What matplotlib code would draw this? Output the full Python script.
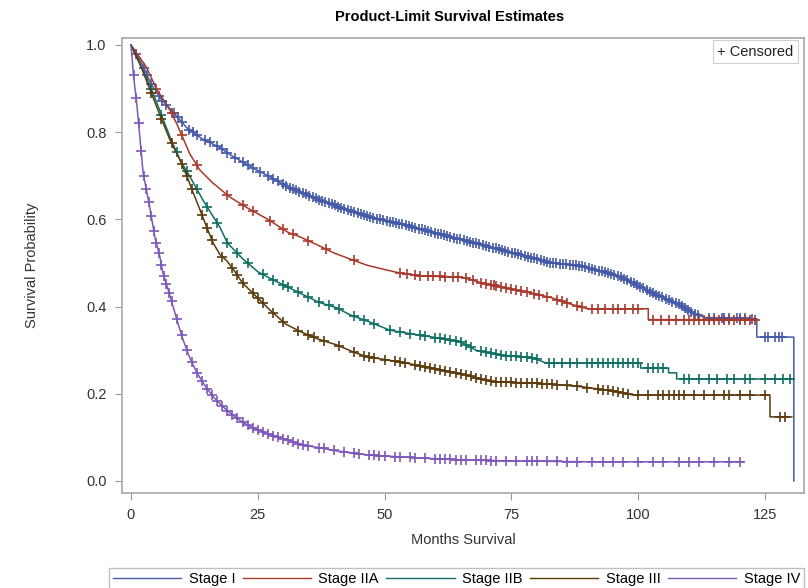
import numpy as np
import matplotlib
matplotlib.use("Agg")
import matplotlib.pyplot as plt
from matplotlib.lines import Line2D

plt.rcParams['font.family'] = ['Liberation Sans', 'DejaVu Sans']

# Survival curves (months, survival); a repeated time is a vertical drop
stage1_t = [0, 2, 4, 6, 8, 11, 14, 17.5, 20, 24, 27, 31, 34, 37, 42, 47, 53, 58, 63, 68, 73, 78,
            83, 88, 93, 96, 99, 102, 105, 108, 111, 113, 123.4, 123.4, 130.7, 130.7]
stage1_s = [1.0, 0.96, 0.91, 0.875, 0.85, 0.81, 0.785, 0.765, 0.745, 0.718, 0.70, 0.674, 0.66,
            0.645, 0.625, 0.605, 0.59, 0.575, 0.56, 0.545, 0.53, 0.515, 0.50, 0.495, 0.48, 0.47,
            0.455, 0.435, 0.42, 0.405, 0.385, 0.375, 0.372, 0.33, 0.33, 0.0]

stage2a_t = [0, 3, 5, 7.7, 9, 10.5, 11.6, 13.6, 16, 19.5, 23, 27, 31, 33.3, 37, 40, 43, 46.5, 50,
             53, 57, 65, 69, 73, 79, 83, 86, 90, 102, 102, 123.4]
stage2a_s = [1.0, 0.95, 0.90, 0.85, 0.82, 0.78, 0.75, 0.713, 0.685, 0.651, 0.626, 0.60, 0.57, 0.56,
             0.54, 0.523, 0.51, 0.495, 0.485, 0.477, 0.47, 0.468, 0.455, 0.445, 0.431, 0.42, 0.408,
             0.395, 0.395, 0.37, 0.37]

stage2b_t = [0, 2, 4, 6, 8, 9.7, 12, 14.2, 16, 17.5, 19, 22, 25, 27.4, 30, 33.3, 37, 40.6, 43.2, 47,
             51, 55, 59.5, 65, 68, 72.8, 79.3, 82, 100.5, 100.5, 106, 106, 107.6, 107.6, 130.3]
stage2b_s = [1.0, 0.95, 0.90, 0.84, 0.78, 0.736, 0.69, 0.644, 0.61, 0.583, 0.546, 0.51, 0.48, 0.465,
             0.45, 0.431, 0.41, 0.397, 0.381, 0.365, 0.346, 0.338, 0.330, 0.319, 0.30, 0.289, 0.282,
             0.27, 0.27, 0.259, 0.259, 0.248, 0.248, 0.234, 0.234]

stage3_t = [0, 2, 4, 6, 7.7, 9.5, 11, 12.3, 13.6, 15, 16.2, 17.5, 18.9, 20.5, 22, 24, 27.4, 30.5,
            33.5, 37, 40.6, 44, 46.5, 53, 59.5, 66, 71.4, 79.3, 85, 89, 96.4, 99, 126, 126, 130.3]
stage3_s = [1.0, 0.95, 0.89, 0.83, 0.782, 0.74, 0.70, 0.66, 0.622, 0.58, 0.546, 0.52, 0.505, 0.48,
            0.454, 0.431, 0.392, 0.36, 0.342, 0.325, 0.312, 0.295, 0.285, 0.273, 0.259, 0.243,
            0.227, 0.225, 0.22, 0.216, 0.204, 0.197, 0.197, 0.147, 0.147]

stage4_t = [0, 0.5, 1.2, 1.8, 2.4, 3.7, 4.7, 5.7, 6.3, 7.3, 8.3, 9.3, 10.3, 11.5, 13, 14.5, 16.2,
            18, 19.5, 22, 24, 27, 30.8, 34, 37.3, 40.6, 46.5, 52, 56.4, 62, 66.2, 75, 90, 120.7]
stage4_s = [1.0, 0.93, 0.858, 0.782, 0.706, 0.628, 0.56, 0.514, 0.477, 0.44, 0.40, 0.36, 0.323,
            0.285, 0.248, 0.22, 0.193, 0.172, 0.156, 0.135, 0.122, 0.108, 0.094, 0.082, 0.076,
            0.069, 0.06, 0.056, 0.053, 0.05, 0.048, 0.046, 0.044, 0.044]

# Censoring times (months)
stage1_cens = [1, 2.5, 3.2, 4, 5.5, 6.2, 7, 8.5, 9.2, 10, 11.5, 12.2, 13, 14.5, 15.5, 17, 18, 19,
               20.5, 22, 23, 24, 25.5, 27, 28, 29, 30, 30.6, 31.3, 32, 32.5, 33.2, 33.9, 34.5,
               35.1, 35.8, 36.4, 37, 37.7, 38.3, 39, 39.6, 40.2, 40.9, 41.5, 42.1, 42.8, 43.4, 44,
               44.7, 45.3, 45.9, 46.6, 47.2, 47.8, 48.5, 49.1, 49.7, 50.4, 51, 51.6, 52.3, 52.9,
               53.5, 54.2, 54.8, 55.4, 56.1, 56.7, 57.3, 58, 58.6, 59.2, 59.9, 60.5, 61.1, 61.8,
               62.4, 63, 63.7, 64.3, 64.9, 65.6, 66.2, 66.8, 67.5, 68.1, 68.7, 69.4, 70, 70.6,
               71.3, 71.9, 72.5, 73.2, 73.8, 74.4, 75.1, 75.7, 76.3, 77, 77.6, 78.2, 78.9, 79.5,
               80.1, 80.8, 81.4, 82, 82.7, 83.3, 83.9, 84.6, 85.2, 85.8, 86.5, 87.1, 87.7, 88.4,
               89, 89.6, 90.3, 90.9, 91.5, 92.2, 92.8, 93.4, 94.1, 94.7, 95.3, 96, 96.6, 97.2,
               97.9, 98.5, 99.1, 99.8, 100.4, 101, 101.7, 102.3, 102.9, 103.6, 104.2, 104.8,
               105.5, 106.1, 106.7, 107.4, 108, 108.6, 109.3, 109.9, 110.5, 111.2, 111.8, 114,
               115, 116.5, 117, 118, 119.5, 120, 121, 122.5, 125, 125.7, 127, 127.7, 128.3]
stage2a_cens = [5, 8, 10, 13, 19, 22, 24, 27.5, 30, 32, 35, 38.5, 44, 53, 54.5, 56, 57, 58.5, 59.5,
                61, 62, 63.5, 64.5, 66, 67.5, 69, 70, 71, 71.5, 72, 73, 74, 75, 76, 77, 78, 79.5,
                80.5, 82, 84, 85, 86, 88, 89, 91, 92, 93.5, 95, 96, 97.5, 99, 100, 103, 104.5,
                106, 107.5, 109, 110, 111, 112, 113, 114, 115, 116, 117, 118, 119, 120, 121, 122,
                123]
stage2b_cens = [4, 6, 9, 11, 13, 15, 17, 19, 21, 23, 26, 28, 30, 31, 33, 35, 37, 39, 41, 44, 46,
                48, 51, 53, 55, 57, 58, 60, 61, 62, 63, 64, 65, 66, 67, 69, 70, 71, 72, 73, 74, 75,
                76, 77, 78, 79, 80, 82.5, 83.5, 85, 86.5, 88, 90, 91, 92, 93, 94, 95, 96, 97, 98,
                99, 100, 102, 103, 104, 105, 109, 110, 112, 114, 115.5, 117.5, 119, 121, 122, 125,
                127, 128.5, 130]
stage3_cens = [4, 6, 8, 10, 11, 12, 14, 15, 16, 18, 20, 21, 22, 24, 25, 26, 28, 30, 33, 35, 36,
               38, 41, 44, 46, 47, 48, 50, 52, 53, 54, 56, 57, 58, 59, 60, 61, 62, 63, 64, 65, 66,
               67, 68, 69, 70, 71, 72, 73, 74, 75, 76, 77, 78, 79, 80, 81, 82, 83, 84, 86, 88, 90,
               92, 93, 94, 95, 96, 97, 98, 100, 102, 104, 105, 106, 107, 108, 109, 111, 113, 115,
               117, 118, 120, 122, 125, 128, 129]
stage4_cens = [0.5, 1, 1.5, 2, 2.5, 3, 3.5, 4, 4.5, 5, 5.5, 6, 6.5, 7, 7.5, 8, 9, 10, 11, 12, 13,
               14, 15, 16, 17, 18, 19, 20, 21, 22, 23, 24, 25, 26, 27, 28, 29, 30, 31, 32, 33, 34,
               35, 37, 38, 40, 42, 44, 45, 47, 48, 49, 50, 52, 53, 55, 56, 58, 60, 61, 62, 63, 64,
               65, 66, 68, 69, 70, 71, 72, 74, 76, 78, 79, 80, 82, 84, 86, 88, 91, 93, 95, 97,
               100, 103, 105, 108, 110, 112, 115, 118, 120]

labels = ["Stage I", "Stage IIA", "Stage IIB", "Stage III", "Stage IV"]
colors = ["#445AA8", "#A8392C", "#0F6E63", "#5B3A0C", "#7E57B8"]
curves = [(stage1_t, stage1_s, stage1_cens), (stage2a_t, stage2a_s, stage2a_cens),
          (stage2b_t, stage2b_s, stage2b_cens), (stage3_t, stage3_s, stage3_cens),
          (stage4_t, stage4_s, stage4_cens)]

fig = plt.figure(figsize=(8.08, 5.88), dpi=100)
ax = fig.add_axes([0.151, 0.1616, 0.844, 0.7738])

for (t, s, cens), col in zip(curves, colors):
    t = np.array(t)
    s = np.array(s)
    ax.plot(t, s, color=col, lw=1.1)
    cy = np.interp(cens, t, s)
    ax.plot(cens, cy, ls='none', marker='+', ms=7, mew=1.2, color=col)

ax.set_xlim(-1.77, 132.7)
ax.set_ylim(-0.0275, 1.016)
ax.set_xticks([0, 25, 50, 75, 100, 125])
ax.set_yticks([0.0, 0.2, 0.4, 0.6, 0.8, 1.0])
ax.set_yticklabels(["0.0", "0.2", "0.4", "0.6", "0.8", "1.0"])
ax.tick_params(direction='out', length=5, color='#999999', labelcolor='#333333',
               labelsize=10.5, pad=6)
for sp in ax.spines.values():
    sp.set_color('#a8a8a8')
    sp.set_linewidth(1.2)

ax.set_xlabel("Months Survival", fontsize=10.5, color='#333333', labelpad=8)
ax.set_ylabel("Survival Probability", fontsize=10.5, color='#333333', labelpad=34)
fig.text(450 / 808, 1 - 17 / 588, "Product-Limit Survival Estimates", ha='center', va='center',
         fontsize=10.5, fontweight='bold')

ax.text(0.985, 0.985, "+ Censored", transform=ax.transAxes, ha='right', va='top',
        fontsize=10.5, color='#222222',
        bbox=dict(boxstyle='square,pad=0.3', fc='white', ec='#d0d0d0', lw=0.8))

handles = [Line2D([0], [0], color=c, lw=1.0) for c in colors]
fig.legend(handles, labels, loc='upper center', bbox_to_anchor=(0.565, 0.046), ncol=5,
           fontsize=10.5, frameon=True, handlelength=4.7, handletextpad=0.5, columnspacing=0.5,
           edgecolor='#b0b0b0', fancybox=False, borderpad=0.25)

fig.savefig("out.png", dpi=100)
